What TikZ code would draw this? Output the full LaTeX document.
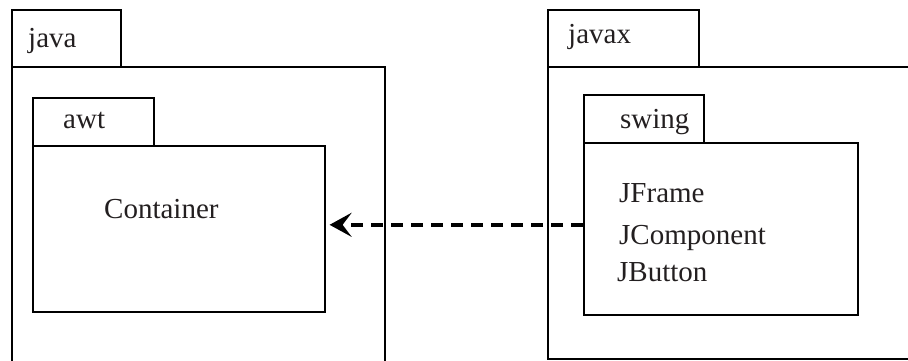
\documentclass[tikz,border=0pt]{standalone}
\usepackage{fontspec}
\setmainfont{Liberation Serif}
\usepackage{xcolor}
\usetikzlibrary{arrows.meta}
\definecolor{ink}{HTML}{231F20}
\definecolor{edge}{HTML}{000000}

\begin{document}
\begin{tikzpicture}[x=1pt,y=-1pt,
  box/.style={draw=edge,line width=1.6pt,anchor=north west,inner sep=0pt},
  lbl/.style={anchor=base west,inner sep=0pt,text=ink,font=\fontsize{29}{34}\selectfont}]
  \useasboundingbox (0,0) rectangle (908,360);
  % java package
  \node[box,minimum width=109pt,minimum height=57pt] (javatab) at (11,9) {};
  \node[box,minimum width=373pt,minimum height=300pt] (java) at (11,66) {};
  \node[box,minimum width=121pt,minimum height=48pt] (awttab) at (32,97) {};
  \node[box,minimum width=292pt,minimum height=166pt] (awt) at (32,145) {};
  % javax package
  \node[box,minimum width=151pt,minimum height=57pt] (javaxtab) at (547,9) {};
  \node[box,minimum width=370pt,minimum height=292pt] (javax) at (547,66) {};
  \node[box,minimum width=120pt,minimum height=48pt] (swingtab) at (583,94) {};
  \node[box,minimum width=274pt,minimum height=172pt] (swing) at (583,142) {};
  % labels
  \node[lbl] (javalbl) at (28,47) {java};
  \node[lbl] (awtlbl) at (63,128) {awt};
  \node[lbl] (container) at (104,218) {Container};
  \node[lbl] (javaxlbl) at (568,43) {javax};
  \node[lbl] (swinglbl) at (620,128) {swing};
  \node[lbl] (jframe) at (619,202) {JFrame};
  \node[lbl] (jcomponent) at (619,244) {JComponent};
  \node[lbl] (jbutton) at (617,281) {JButton};
  % dependency
  \draw[line width=4pt,dash pattern=on 12pt off 8pt,
        -{Stealth[length=22pt,width=24pt,inset=9pt]}]
    ([yshift=4pt]swing.west) -- ([xshift=4pt,yshift=4pt]awt.east);
\end{tikzpicture}
\end{document}
